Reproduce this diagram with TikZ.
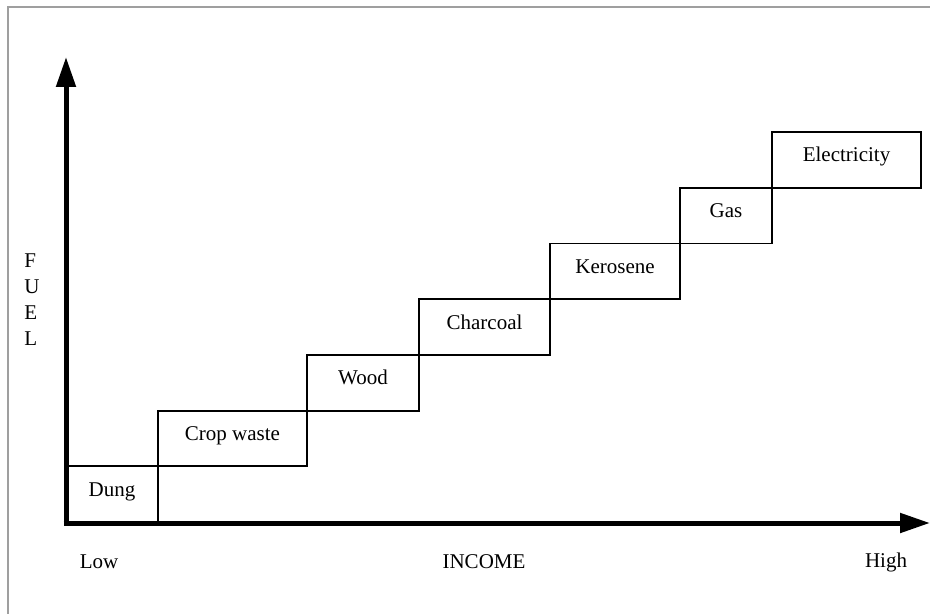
\documentclass[tikz,border=0pt]{standalone}
\usepackage{fontspec}
\setmainfont{Liberation Serif}
\usetikzlibrary{positioning,arrows.meta}

\tikzset{
  stepbox/.style={draw, line width=0.9pt, inner sep=0pt, outer sep=0pt,
                  minimum height=27.85pt, text height=7pt, text depth=5pt,
                  font=\fontsize{10.5}{12.6}\selectfont},
  axis/.style={line width=2.5pt, -{Triangle[length=15pt,width=9.5pt]}},
  lbl/.style={font=\fontsize{10.5}{13}\selectfont, inner sep=0pt}
}

\begin{document}
\begin{tikzpicture}[x=0.5pt,y=-0.5pt]
  \useasboundingbox (0,0) rectangle (930,614);
  \draw[gray!75, line width=0.8pt] (930,7) -- (8,7) -- (8,614);

  \coordinate (yfoot) at (66,525);
  \coordinate (ytip) at (66,57);
  \coordinate (xfoot) at (63.5,523);
  \coordinate (xtip) at (930,523);
  \draw[axis] (yfoot) -- (ytip);
  \draw[axis] (xfoot) -- (xtip);

  \node[stepbox, minimum width=46pt, anchor=south west] (dung) at (66,522) {Dung};
  \node[stepbox, minimum width=74.5pt, above right=0pt and 0pt of dung] (crop) {Crop waste};
  \node[stepbox, minimum width=56pt, above right=0pt and 0pt of crop] (wood) {Wood};
  \node[stepbox, minimum width=65.5pt, above right=0pt and 0pt of wood] (charcoal) {Charcoal};
  \node[stepbox, minimum width=65pt, above right=0pt and 0pt of charcoal] (kerosene) {Kerosene};
  \node[stepbox, minimum width=46pt, above right=0pt and 0pt of kerosene] (gas) {Gas};
  \node[stepbox, minimum width=74.5pt, above right=0pt and 0pt of gas] (elec) {Electricity};

  \node[lbl, align=left] (fuel) at (32,300) {F\\U\\E\\L};
  \node[lbl] (low) at (99,562) {Low};
  \node[lbl] (income) at (484,562) {INCOME};
  \node[lbl] (high) at (886,562) {High};
\end{tikzpicture}
\end{document}
